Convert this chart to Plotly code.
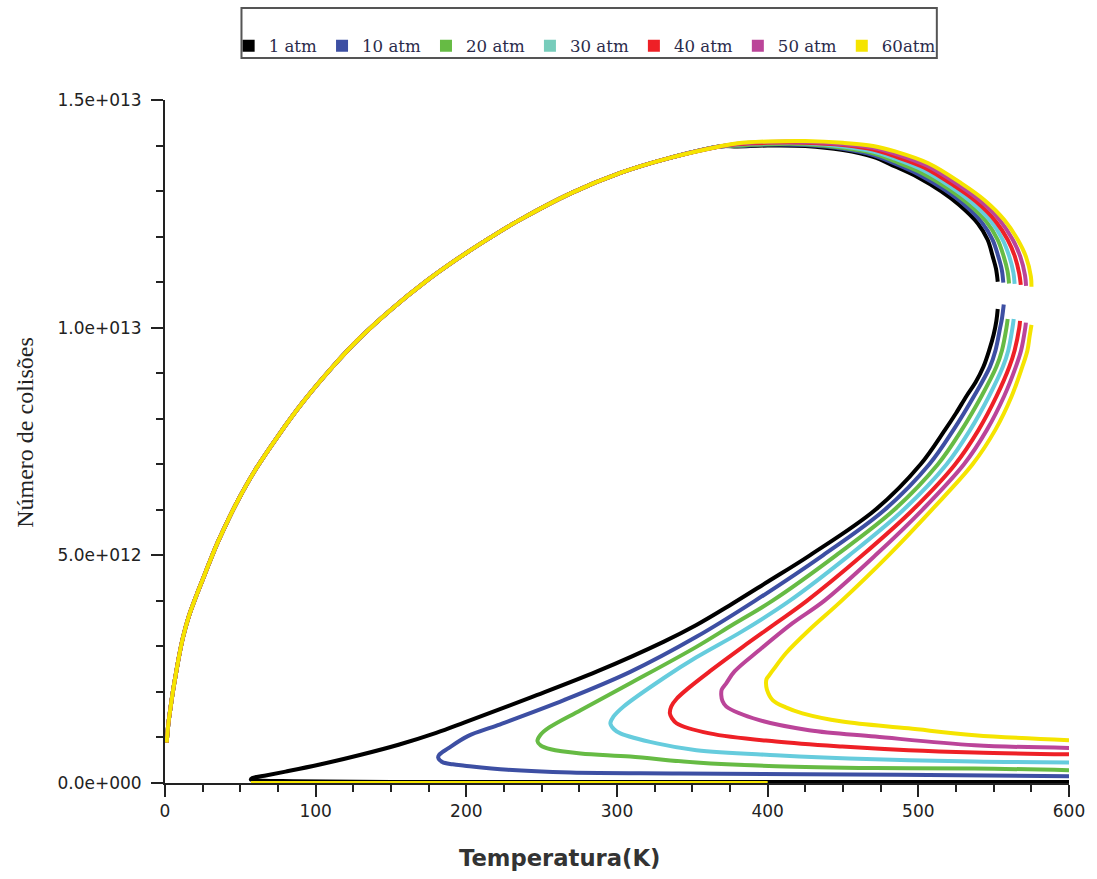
import plotly.graph_objects as go

# ---------------- data (temperature in K, collisions in units of 1e12) ----------------
LABELS = ["1 atm", "10 atm", "20 atm", "30 atm", "40 atm", "50 atm", "60atm"]
COLORS = ["#000000", "#3d4fa3", "#66bb44", "#66ccdd", "#ee2026", "#bb4499", "#f5e400"]
LEGEND_COLORS = ["#000000", "#3d4fa3", "#66bb44", "#77ccbb", "#ee2026", "#bb4499", "#f5e400"]

# upper branch, shared by all pressures (left part)
UPPER_T = [1.1, 2.2, 3.7, 5.1, 7.3, 9.4, 12.1, 15.8, 20.9, 25.3, 29.2, 35.2, 41.8, 48.3,
           60, 75, 91.2, 111, 128.6, 150.5, 172.5, 194.5, 215, 234, 269.2, 302.2, 335.1, 368.1]
UPPER_N = [0.885, 1.29, 1.66, 1.98, 2.41, 2.80, 3.22, 3.66, 4.12, 4.49, 4.82, 5.30, 5.77, 6.20,
           6.88, 7.62, 8.35, 9.13, 9.75, 10.41, 11.00, 11.52, 11.96, 12.34, 12.95, 13.40, 13.73, 13.98]

# upper branch, right part (one row per pressure)
TAIL_T = [
    [380, 400, 425, 450, 470, 484.6, 500.0, 515.0, 527.0, 539.5, 546.0, 549.4, 551.5, 552.7],
    [380, 400, 425, 450, 470, 484.6, 501.1, 517.3, 529.8, 542.4, 549.3, 553.1, 555.4, 556.4],
    [380, 400, 425, 450, 470, 484.6, 502.2, 519.5, 532.7, 545.3, 552.7, 556.7, 559.2, 560.2],
    [380, 400, 425, 450, 470, 484.6, 503.3, 521.8, 535.5, 548.3, 556.0, 560.4, 563.1, 563.9],
    [380, 400, 425, 450, 470, 484.6, 504.4, 524.1, 538.3, 551.2, 559.3, 564.1, 567.0, 568.0],
    [380, 400, 425, 450, 470, 484.6, 505.5, 526.3, 541.2, 554.1, 562.7, 567.7, 570.8, 571.5],
    [380, 400, 425, 450, 470, 484.6, 506.6, 528.6, 544.0, 557.0, 566.0, 571.4, 574.7, 575.1],
]
TAIL_N = [
    [13.98, 14.00, 13.99, 13.90, 13.75, 13.54, 13.30, 13.00, 12.70, 12.29, 11.93, 11.56, 11.30, 11.01],
    [13.99, 14.02, 14.01, 13.93, 13.79, 13.60, 13.35, 13.03, 12.72, 12.30, 11.93, 11.56, 11.27, 10.99],
    [14.00, 14.03, 14.03, 13.95, 13.83, 13.65, 13.40, 13.06, 12.73, 12.32, 11.93, 11.56, 11.24, 10.97],
    [14.02, 14.05, 14.05, 13.98, 13.87, 13.71, 13.46, 13.09, 12.75, 12.33, 11.93, 11.56, 11.21, 10.96],
    [14.03, 14.06, 14.06, 14.01, 13.91, 13.76, 13.51, 13.11, 12.77, 12.34, 11.93, 11.56, 11.18, 10.94],
    [14.04, 14.08, 14.08, 14.03, 13.95, 13.82, 13.56, 13.14, 12.78, 12.36, 11.93, 11.56, 11.15, 10.92],
    [14.05, 14.09, 14.10, 14.06, 13.99, 13.87, 13.61, 13.17, 12.80, 12.37, 11.93, 11.56, 11.12, 10.90],
]

# lower branch (from the top, down to the turning point, then out to 600 K)
LOWER_T = [
    [552.7, 551.8, 550.0, 547.0, 543.2, 538.0, 532.0, 525.0, 517.6, 501.5, 471.5, 428.0, 400.0, 374.7,
     352.7, 330.8, 286.8, 242.9, 198.9, 180.0, 155.0, 130.0, 102.0, 80.0, 66.0, 58.0, 57.0, 65.0, 85.0,
     150.0, 600.0],
    [556.7, 555.5, 554.3, 551.2, 547.5, 537.0, 523.2, 507.3, 477.7, 436.7, 391.5, 352.7, 308.8, 264.8,
     220.9, 201.0, 187.9, 182.0, 181.3, 184.0, 191.0, 198.9, 227.5, 269.2, 341.7, 486.8, 600.0],
    [559.3, 558.5, 555.5, 551.8, 542.0, 528.7, 513.0, 484.0, 445.4, 403.0, 377.0, 352.7, 308.8, 275.8,
     255.0, 249.0, 247.2, 249.5, 256.0, 275.8, 308.8, 352.7, 405.5, 471.4, 537.4, 600.0],
    [563.3, 562.5, 559.7, 556.1, 547.0, 534.3, 518.8, 490.2, 454.1, 414.5, 383.0, 352.7, 330.8, 304.4,
     297.5, 295.6, 298.0, 302.2, 326.4, 352.7, 405.5, 471.4, 537.4, 600.0],
    [567.5, 567.0, 563.9, 560.4, 552.0, 539.9, 524.5, 496.4, 462.8, 426.0, 405.5, 383.5, 361.5, 348.0,
     339.6, 336.0, 335.1, 336.5, 339.6, 361.5, 405.5, 449.5, 493.4, 537.4, 600.0],
    [571.4, 571.0, 568.2, 564.7, 557.0, 545.4, 530.3, 502.7, 471.5, 437.5, 416.5, 394.5, 378.0, 372.5,
     369.5, 369.2, 370.0, 372.5, 394.5, 427.5, 471.4, 537.4, 600.0],
    [575.1, 573.8, 572.4, 569.0, 562.0, 551.0, 536.0, 508.9, 480.2, 449.0, 427.5, 412.1, 404.0, 401.1,
     399.2, 398.9, 399.5, 403.3, 412.0, 423.1, 449.5, 493.4, 537.4, 600.0],
]
LOWER_N = [
    [10.41, 10.15, 9.85, 9.50, 9.14, 8.80, 8.50, 8.12, 7.75, 7.00, 6.00, 5.00, 4.42, 3.90,
     3.47, 3.10, 2.45, 1.88, 1.33, 1.10, 0.84, 0.62, 0.40, 0.25, 0.16, 0.11, 0.07, 0.05, 0.04,
     0.02, 0.02],
    [10.51, 10.20, 10.00, 9.50, 9.14, 8.50, 7.75, 7.00, 6.00, 5.00, 4.00, 3.21, 2.44, 1.82,
     1.27, 1.03, 0.76, 0.62, 0.56, 0.46, 0.41, 0.38, 0.29, 0.23, 0.21, 0.18, 0.15],
    [10.19, 10.00, 9.50, 9.14, 8.50, 7.75, 7.00, 6.00, 5.00, 4.00, 3.48, 2.99, 2.19, 1.60,
     1.22, 1.05, 0.92, 0.82, 0.74, 0.65, 0.58, 0.45, 0.37, 0.33, 0.32, 0.28],
    [10.19, 10.00, 9.50, 9.14, 8.50, 7.75, 7.00, 6.00, 5.00, 4.00, 3.33, 2.76, 2.30, 1.68,
     1.45, 1.31, 1.18, 1.09, 0.87, 0.72, 0.61, 0.52, 0.47, 0.45],
    [10.15, 10.00, 9.50, 9.14, 8.50, 7.75, 7.00, 6.00, 5.00, 4.00, 3.51, 2.99, 2.45, 2.10,
     1.85, 1.68, 1.53, 1.42, 1.31, 1.09, 0.91, 0.80, 0.72, 0.67, 0.63],
    [10.11, 10.00, 9.50, 9.14, 8.50, 7.75, 7.00, 6.00, 5.00, 4.00, 3.51, 2.92, 2.45, 2.19,
     2.05, 1.93, 1.80, 1.68, 1.38, 1.16, 1.02, 0.83, 0.77],
    [10.06, 9.80, 9.50, 9.14, 8.50, 7.75, 7.00, 6.00, 5.00, 4.00, 3.36, 2.85, 2.50, 2.37,
     2.28, 2.19, 2.05, 1.82, 1.66, 1.53, 1.35, 1.20, 1.05, 0.94],
]

# degenerate segment of the 60 atm solution lying on the axis
BASE_T = [57.0, 400.0]
BASE_N = [0.0, 0.0]

Y_TICKS = [0, 5e12, 1e13, 1.5e13]
Y_TICKTEXT = ["0.0e+000", "5.0e+012", "1.0e+013", "1.5e+013"]
X_TICKS = [0, 100, 200, 300, 400, 500, 600]

SCALE = 1e12

# ---------------- figure ----------------
fig = go.Figure()

for i, lab in enumerate(LABELS):
    xs = UPPER_T + TAIL_T[i] + [None] + LOWER_T[i]
    ys = [v * SCALE for v in UPPER_N] + [v * SCALE for v in TAIL_N[i]] + [None] + \
         [v * SCALE for v in LOWER_N[i]]
    if i == len(LABELS) - 1:
        xs = xs + [None] + BASE_T
        ys = ys + [None] + [v * SCALE for v in BASE_N]
    fig.add_trace(go.Scatter(
        x=xs, y=ys, mode="lines", name=lab, showlegend=False,
        line=dict(color=COLORS[i], width=4, shape="spline", smoothing=1.0),
        connectgaps=False, hoverinfo="skip"))

# legend entries
for i, lab in enumerate(LABELS):
    fig.add_trace(go.Scatter(
        x=[None], y=[None], mode="markers", name=lab, showlegend=True,
        marker=dict(symbol="square", size=12, color=LEGEND_COLORS[i])))

axis_color = "#222222"
fig.update_xaxes(
    range=[0, 600], showline=True, linecolor=axis_color, linewidth=2,
    showgrid=False, zeroline=False,
    tickmode="array", tickvals=X_TICKS,
    ticks="outside", ticklen=12, tickwidth=1.5, tickcolor=axis_color,
    minor=dict(tickmode="linear", tick0=0, dtick=25, ticks="outside", ticklen=7,
               tickwidth=1.5, tickcolor=axis_color, showgrid=False),
    tickfont=dict(family="DejaVu Sans", size=17, color="#222222"),
)
fig.update_yaxes(
    range=[0, 1.5e13], showline=True, linecolor=axis_color, linewidth=2,
    showgrid=False, zeroline=False,
    tickmode="array", tickvals=Y_TICKS, ticktext=Y_TICKTEXT,
    ticks="outside", ticklen=12, tickwidth=1.5, tickcolor=axis_color,
    minor=dict(tickmode="linear", tick0=0, dtick=1e12, ticks="outside", ticklen=7,
               tickwidth=1.5, tickcolor=axis_color, showgrid=False),
    tickfont=dict(family="DejaVu Sans", size=17, color="#222222"),
    ticklabelstandoff=6,
)

fig.update_layout(
    width=1097, height=879,
    margin=dict(l=165, r=22, t=100, b=96),
    plot_bgcolor="white", paper_bgcolor="white",
    showlegend=True,
    legend=dict(orientation="h", x=0.0704, xanchor="left", y=1.079, yanchor="middle",
                font=dict(family="DejaVu Serif", size=16.6, color="#2b2b4b"),
                bgcolor="rgba(0,0,0,0)", borderwidth=0,
                entrywidth=0, itemclick=False),
    shapes=[dict(type="rect", xref="paper", yref="paper",
                 x0=0.0846, x1=0.8538, y0=1.0615, y1=1.1347,
                 line=dict(color="#555555", width=2), fillcolor="rgba(0,0,0,0)")],
    annotations=[
        dict(text="<b>Temperatura(K)</b>", xref="paper", yref="paper",
             x=0.4363, y=-0.1098, xanchor="center", yanchor="middle", showarrow=False,
             font=dict(family="DejaVu Sans", size=22.7, color="#333333")),
        dict(text="Número de colisões", xref="paper", yref="paper",
             x=-0.155, y=0.514, xanchor="center", yanchor="middle", showarrow=False,
             textangle=-90, font=dict(family="Liberation Serif", size=24, color="#222222")),
    ],
)

fig.write_html("out.html")
